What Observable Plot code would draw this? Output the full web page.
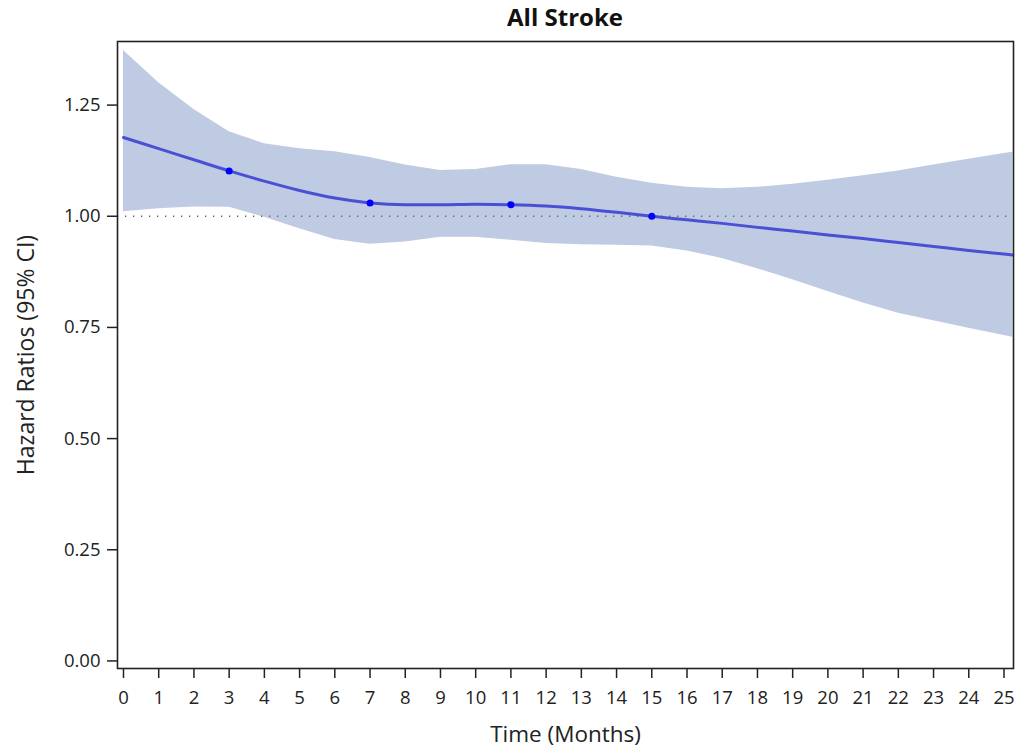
<!DOCTYPE html>
<html>
<head>
<meta charset="utf-8">
<script src="https://cdn.jsdelivr.net/npm/d3@7"></script>
<script src="https://cdn.jsdelivr.net/npm/@observablehq/plot@0.6"></script>
<style>
  body { margin: 0; background: #fff; }
  #title { height: 31px; padding-top: 5px; padding-left: 117px; padding-right: 19px;
           font-family: "Open Sans", sans-serif; font-weight: bold; font-size: 24px;
           line-height: 24px; text-align: center; color: #111; }
</style>
</head>
<body>
<div id="title">All Stroke</div>
<div id="chart"></div>
<script>
const months = [0,1,2,3,4,5,6,7,8,9,10,11,12,13,14,15,16,17,18,19,20,21,22,23,24,25,25.25];
const hr    = [1.177,1.152,1.127,1.102,1.079,1.058,1.041,1.030,1.026,1.026,1.027,1.026,1.023,1.017,1.009,1.000,0.992,0.984,0.975,0.967,0.958,0.950,0.941,0.932,0.923,0.915,0.913];
const lower = [1.010,1.017,1.021,1.020,0.998,0.972,0.948,0.937,0.942,0.953,0.953,0.946,0.939,0.936,0.935,0.933,0.922,0.905,0.882,0.857,0.831,0.805,0.782,0.765,0.748,0.732,0.728];
const upper = [1.373,1.300,1.240,1.190,1.163,1.152,1.145,1.132,1.115,1.103,1.105,1.116,1.116,1.105,1.088,1.074,1.065,1.062,1.065,1.072,1.081,1.091,1.102,1.115,1.128,1.141,1.144];
const markerMonths = [3, 7, 11, 15];
const xTicks = [0,1,2,3,4,5,6,7,8,9,10,11,12,13,14,15,16,17,18,19,20,21,22,23,24,25];
const yTicks = [0, 0.25, 0.5, 0.75, 1.0, 1.25];
const xLabel = "Time (Months)";
const yLabel = "Hazard Ratios (95% CI)";

const rows = months.map((m, i) => ({month: m, hr: hr[i], lower: lower[i], upper: upper[i]}));
const markers = rows.filter(d => markerMonths.includes(d.month));

const chart = Plot.plot({
  width: 1032,
  height: 712,
  marginTop: 5,
  marginBottom: 80,
  marginLeft: 117,
  marginRight: 19,
  style: {fontFamily: "'Open Sans', sans-serif", fontSize: "18.5px", color: "#222", background: "#fff"},
  x: {domain: [-0.17, 25.27]},
  y: {domain: [-0.017, 1.393]},
  marks: [
    Plot.areaY(rows, {x: "month", y1: "lower", y2: "upper", fill: "#bfcae3", fillOpacity: 1}),
    Plot.ruleY([1], {stroke: "#666", strokeWidth: 1.3, strokeDasharray: "1.3,6.7"}),
    Plot.line(rows, {x: "month", y: "hr", stroke: "#4a50d4", strokeWidth: 3, curve: "monotone-x"}),
    Plot.dot(markers, {x: "month", y: "hr", r: 3.5, fill: "#0000ff", stroke: "none"}),
    Plot.axisX({ticks: xTicks, tickSize: 10, tickPadding: 12, strokeWidth: 1.5, label: null}),
    Plot.axisY({ticks: yTicks, tickSize: 10, tickPadding: 7, strokeWidth: 1.5, tickFormat: d3.format(".2f"), label: null}),
    Plot.frame({stroke: "#222", strokeWidth: 1.6}),
    Plot.text([xLabel], {frameAnchor: "bottom", lineAnchor: "bottom", textAnchor: "middle", dy: 73, fontSize: 22.5, fill: "#222"}),
    Plot.text([yLabel], {frameAnchor: "left", lineAnchor: "bottom", textAnchor: "middle", rotate: -90, dx: -84, fontSize: 23, fill: "#222"})
  ]
});
document.getElementById("chart").appendChild(chart);
</script>
</body>
</html>
